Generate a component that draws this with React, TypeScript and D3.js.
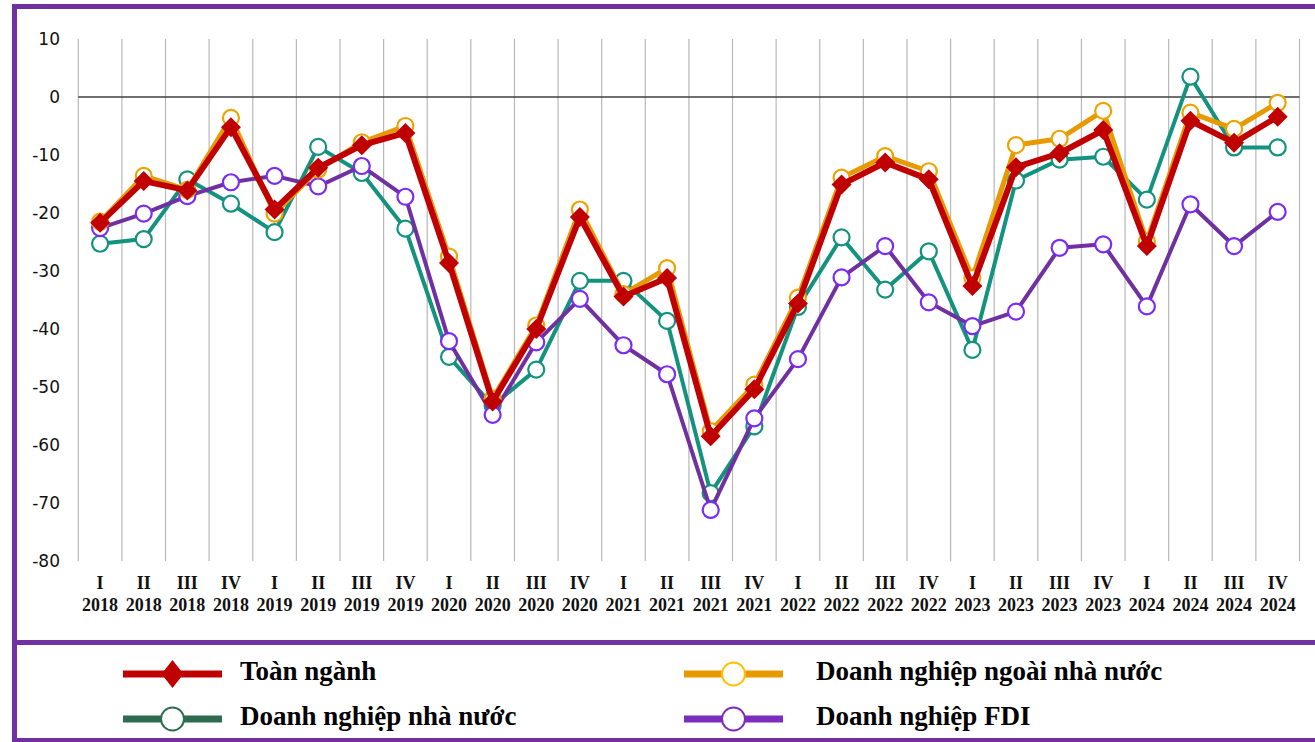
import React, { useRef, useEffect } from 'react'
import { select, scaleBand, scaleLinear, line, range } from 'd3'

const years = ['2018', '2019', '2020', '2021', '2022', '2023', '2024']
const quarters = ['I', 'II', 'III', 'IV']
const yTicks = [10, 0, -10, -20, -30, -40, -50, -60, -70, -80]

const toanNganh = [
	-21.7, -14.5, -16.1, -5.2, -19.4, -12.2, -8.3, -6.2, -28.6, -52.5, -40.0, -20.7, -34.4, -31.2,
	-58.5, -50.4, -35.6, -15.1, -11.3, -14.2, -32.6, -12.1, -9.7, -5.7, -25.7, -4.1, -7.9, -3.4,
]
const ngoaiNhaNuoc = [
	-21.5, -13.6, -16.0, -3.6, -20.1, -12.5, -7.8, -5.0, -27.5, -52.0, -39.4, -19.4, -34.0, -29.5,
	-57.6, -49.6, -34.6, -13.9, -10.2, -12.8, -31.2, -8.3, -7.2, -2.4, -24.9, -2.7, -5.5, -1.0,
]
const nhaNuoc = [
	-25.3, -24.5, -14.2, -18.4, -23.3, -8.6, -13.1, -22.7, -44.8, -53.2, -47.0, -31.7, -31.7, -38.6,
	-68.3, -56.8, -36.2, -24.2, -33.2, -26.6, -43.6, -14.4, -10.8, -10.3, -17.7, 3.5, -8.7, -8.7,
]
const fdi = [
	-22.6, -20.1, -17.1, -14.7, -13.6, -15.4, -11.9, -17.2, -42.1, -54.8, -42.3, -34.8, -42.8, -47.8,
	-71.2, -55.4, -45.2, -31.1, -25.7, -35.4, -39.5, -37.0, -26.0, -25.4, -36.1, -18.5, -25.7, -19.8,
]

// category = [quarter, year]
const categories = years.flatMap((y) => quarters.map((q) => ({ q, y, key: `${q} ${y}` })))

// drawn bottom to top
const series = [
	{ name: 'Doanh nghiệp nhà nước', data: nhaNuoc, color: '#13927E', marker: 'circle', mStroke: '#13927E', width: 4, legendColor: '#2E6B4F' },
	{ name: 'Doanh nghiệp FDI', data: fdi, color: '#7030A0', marker: 'circle', mStroke: '#7A2CF5', width: 4, legendColor: '#7B2DBE' },
	{ name: 'Doanh nghiệp ngoài nhà nước', data: ngoaiNhaNuoc, color: '#E69A00', marker: 'circle', mStroke: '#EBA400', width: 5, legendColor: '#E69A00' },
	{ name: 'Toàn ngành', data: toanNganh, color: '#C00000', marker: 'diamond', mStroke: '#C00000', width: 6, legendColor: '#C00000' },
]

const legendItems = [
	{ s: 3, x: 123, y: 674, tx: 240 },
	{ s: 2, x: 684, y: 674, tx: 816 },
	{ s: 0, x: 123, y: 719, tx: 240 },
	{ s: 1, x: 684, y: 719, tx: 816 },
]

function App() {
	const width = 1315
	const height = 742
	const svgRef = useRef(null)

	useEffect(() => {
		const svg = select(svgRef.current)
		svg.selectAll('*').remove()

		const xScale = scaleBand()
			.domain(categories.map((c) => c.key))
			.range([78.3, 1299.5])
			.padding(0)
		const yScale = scaleLinear().domain([-80, 10]).range([561, 39])
		const cx = (i) => xScale(categories[i].key) + xScale.bandwidth() / 2

		svg.append('rect').attr('width', width).attr('height', height).attr('fill', '#fff')

		// vertical gridlines on category boundaries
		const bounds = range(categories.length + 1).map((i) => 78.3 + i * xScale.bandwidth())
		svg
			.selectAll('.grid')
			.data(bounds)
			.join('line')
			.attr('class', 'grid')
			.attr('x1', (d) => d)
			.attr('x2', (d) => d)
			.attr('y1', yScale(10))
			.attr('y2', yScale(-80))
			.attr('stroke', '#b8b8b8')
			.attr('stroke-width', 1.2)

		svg
			.append('line')
			.attr('x1', 78.3)
			.attr('x2', 1299.5)
			.attr('y1', yScale(0))
			.attr('y2', yScale(0))
			.attr('stroke', '#404040')
			.attr('stroke-width', 1.3)

		// y tick labels
		svg
			.selectAll('.ytick')
			.data(yTicks)
			.join('text')
			.attr('class', 'ytick')
			.attr('x', 60)
			.attr('y', (d) => yScale(d))
			.attr('dy', '0.36em')
			.attr('text-anchor', 'end')
			.attr('font-family', 'DejaVu Sans, Verdana, sans-serif')
			.attr('font-size', 17)
			.attr('fill', '#111')
			.text((d) => String(d))

		// x labels
		const xl = svg
			.selectAll('.xlab')
			.data(categories)
			.join('text')
			.attr('class', 'xlab')
			.attr('text-anchor', 'middle')
			.attr('font-family', 'Liberation Serif, Times New Roman, serif')
			.attr('font-weight', 'bold')
			.attr('font-size', 18)
			.attr('fill', '#111')
		xl.append('tspan')
			.attr('x', (d, i) => cx(i))
			.attr('y', 589)
			.text((d) => d.q)
		xl.append('tspan')
			.attr('x', (d, i) => cx(i))
			.attr('y', 611)
			.text((d) => d.y)

		const lineGen = line()
			.x((d, i) => cx(i))
			.y((d) => yScale(d))

		series.forEach((s) => {
			const g = svg.append('g')
			g.append('path')
				.datum(s.data)
				.attr('d', lineGen)
				.attr('fill', 'none')
				.attr('stroke', s.color)
				.attr('stroke-width', s.width)
				.attr('stroke-linejoin', 'round')
			if (s.marker === 'circle') {
				g.selectAll('circle')
					.data(s.data)
					.join('circle')
					.attr('cx', (d, i) => cx(i))
					.attr('cy', (d) => yScale(d))
					.attr('r', 8)
					.attr('fill', '#fff')
					.attr('stroke', s.mStroke)
					.attr('stroke-width', 2.2)
			} else {
				g.selectAll('path.dm')
					.data(s.data)
					.join('path')
					.attr('class', 'dm')
					.attr('d', (d, i) => {
						const x = cx(i)
						const y = yScale(d)
						return `M${x},${y - 10}L${x + 10},${y}L${x},${y + 10}L${x - 10},${y}Z`
					})
					.attr('fill', s.color)
			}
		})

		// frame
		const frame = svg.append('g').attr('stroke', '#7030A0').attr('fill', 'none')
		frame.append('rect').attr('x', 14.5).attr('y', 6.5).attr('width', 1320).attr('height', 734).attr('stroke-width', 5)
		frame.append('line').attr('x1', 14.5).attr('x2', 1320).attr('y1', 642.5).attr('y2', 642.5).attr('stroke-width', 5)

		// legend
		legendItems.forEach((it) => {
			const s = series[it.s]
			const g = svg.append('g')
			g.append('line')
				.attr('x1', it.x)
				.attr('x2', it.x + 99)
				.attr('y1', it.y)
				.attr('y2', it.y)
				.attr('stroke', s.legendColor)
				.attr('stroke-width', 7)
			const mx = it.x + 49.5
			if (s.marker === 'diamond') {
				g.append('path')
					.attr('d', `M${mx},${it.y - 14}L${mx + 11},${it.y}L${mx},${it.y + 14}L${mx - 11},${it.y}Z`)
					.attr('fill', s.color)
			} else {
				g.append('circle')
					.attr('cx', mx)
					.attr('cy', it.y)
					.attr('r', 11.5)
					.attr('fill', '#fff')
					.attr('stroke', it.s === 2 ? '#FFC000' : s.legendColor)
					.attr('stroke-width', 2)
			}
			g.append('text')
				.attr('x', it.tx)
				.attr('y', it.y + 6)
				.attr('font-family', 'Liberation Serif, Times New Roman, serif')
				.attr('font-weight', 'bold')
				.attr('font-size', 27)
				.attr('fill', '#000')
				.text(s.name)
		})
	}, [])

	return (
		<svg
			ref={svgRef}
			width={width}
			height={height}
			style={{ position: 'absolute', left: 0, top: 0, display: 'block' }}
		/>
	)
}

export default App
